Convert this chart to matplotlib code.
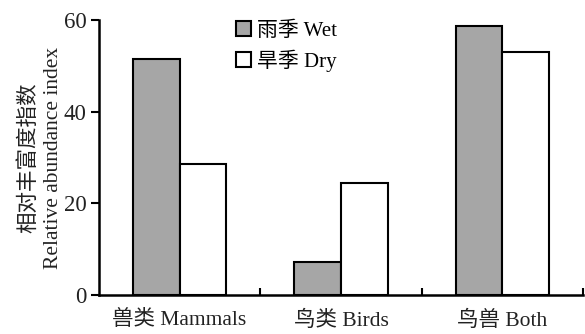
import matplotlib
matplotlib.use("Agg")
import matplotlib.pyplot as plt
import numpy as np

categories = ["兽类 Mammals", "鸟类 Birds", "鸟兽 Both"]
wet = [51.4, 7.2, 58.7]
dry = [28.5, 24.5, 53.0]
series_labels = ["雨季 Wet", "旱季 Dry"]
yticks = [0, 20, 40, 60]

plt.rcParams['font.family'] = ['Liberation Serif', 'Noto Sans CJK SC']

fig = plt.figure(figsize=(5.85, 3.34), dpi=100)
ax = fig.add_axes([0.169, 0.1168, 0.8276, 0.8232])

x = np.arange(len(categories)) + 0.5
w = 0.29
ax.bar(x - w / 2, wet, width=w, color='#a6a6a6', edgecolor='black', linewidth=1.5, label=series_labels[0])
ax.bar(x + w / 2, dry, width=w, color='white', edgecolor='black', linewidth=1.5, label=series_labels[1])

ax.set_xlim(0, 3)
ax.set_ylim(0, 60)
ax.set_yticks(yticks)
ax.set_xticks(x)
ax.set_xticklabels(categories, fontsize=15.5, color='#222222')
ax.tick_params(axis='x', length=0, pad=11)
ax.set_xticks([1, 2, 3], minor=True)
ax.tick_params(axis='x', which='minor', direction='in', length=5, width=1.5)
ax.tick_params(axis='y', direction='out', length=6, width=1.5, labelsize=16.5, pad=3, labelcolor='#222222')

for s in ['top', 'right']:
    ax.spines[s].set_visible(False)
for s in ['left', 'bottom']:
    ax.spines[s].set_linewidth(1.8)

ax.set_ylabel("相对丰富度指数\nRelative abundance index", fontsize=15.5, color='#222222', labelpad=0, linespacing=1.4)

leg = ax.legend(loc='upper left', bbox_to_anchor=(0.245, 1.065), frameon=False, fontsize=15,
                handlelength=0.72, handleheight=0.72, handletextpad=0.3, labelspacing=0.42)

fig.savefig("out.png", dpi=100)
